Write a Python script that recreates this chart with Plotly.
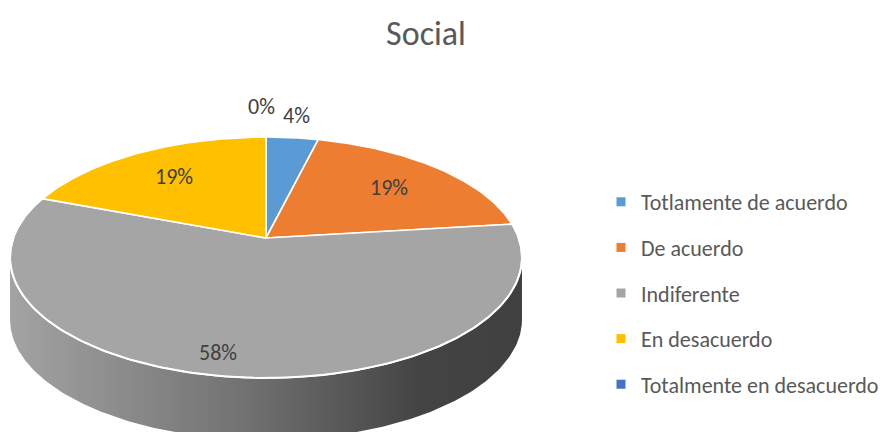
import numpy as np
import plotly.graph_objects as go

categories = ["Totlamente de acuerdo", "De acuerdo", "Indiferente",
              "En desacuerdo", "Totalmente en desacuerdo"]
values = [1, 5, 15, 5, 0]
colors = ["#5B9BD5", "#ED7D31", "#A5A5A5", "#FFC000", "#4472C4"]
title = "Social"

FONT = "Calibri, Carlito, Lato, sans-serif"
W, H = 896, 432
OFF = 8  # page body margin around the plot div

# tilted-disc projection (page pixel space)
CX, CY = 266, 238
A, B, P = 252.6, 117.3, 0.162
DEPTH = 62


def proj(theta_deg, r=1.0, dy=0.0):
    th = np.radians(theta_deg)
    w = 1 + P * r * np.cos(th)
    x = CX + A * r * np.sin(th) / w
    y = CY - B * r * np.cos(th) / w + dy
    return x, y


def px(x):
    return (x - OFF) / W


def py(y):
    return 1 - (y - OFF) / H


total = sum(values)
fig = go.Figure()

# side wall of the disc (front part, all under the big slice)
t_edge = np.degrees(np.arccos(-P))
ts = np.linspace(t_edge, 360 - t_edge, 200)
xt, yt = proj(ts)
xb, yb = proj(ts[::-1], dy=DEPTH)
fig.add_trace(go.Scatter(
    x=np.concatenate([xt, xb]), y=np.concatenate([yt, yb]),
    mode="lines", fill="toself", line=dict(width=0),
    fillgradient=dict(type="horizontal", start=15, stop=520,
                      colorscale=[[0, "#a2a2a2"], [0.45, "#727272"],
                                  [0.8, "#444444"], [1, "#404040"]]),
    hoverinfo="skip", showlegend=False))

# top face slices, clockwise from 12 o'clock
start = 0.0
label_pos = []
for cat, v, c in zip(categories, values, colors):
    span = 360.0 * v / total
    if v > 0:
        tt = np.linspace(start, start + span, max(int(span * 2), 4))
        ax, ay = proj(tt)
        fig.add_trace(go.Scatter(
            x=np.concatenate([[CX], ax, [CX]]),
            y=np.concatenate([[CY], ay, [CY]]),
            mode="lines", fill="toself", fillcolor=c,
            line=dict(color="white", width=1.6),
            name=cat, hoverinfo="name", showlegend=False))
    label_pos.append(start + span / 2 if v > 0 else start % 360)
    start += span

# front rim highlight
rx, ry = proj(np.linspace(t_edge - 10, 370 - t_edge, 200))
fig.add_trace(go.Scatter(x=rx, y=ry, mode="lines",
                         line=dict(color="white", width=2),
                         hoverinfo="skip", showlegend=False))

# data labels
label_r = [1.27, 0.7, 0.85, 0.7, 1.3]
shifts = [(-2, 0), (0, 0), (-18, 0), (0, 0), (-5, 6)]
for v, th, r, (sx, sy) in zip(values, label_pos, label_r, shifts):
    lx, ly = proj(th, r)
    fig.add_annotation(x=lx, y=ly, text=f"{round(100 * v / total)}%",
                       showarrow=False, xshift=sx, yshift=sy,
                       font=dict(family=FONT, size=22, color="#404040"))

# legend entries
for i, (cat, c) in enumerate(zip(categories, colors)):
    fig.add_trace(go.Scatter(x=[None], y=[None], mode="markers", name=cat,
                             legendgroup=f"g{i}",
                             marker=dict(symbol="square", size=9, color=c)))

fig.update_layout(
    width=W, height=H,
    margin=dict(l=0, r=0, t=0, b=0),
    paper_bgcolor="white", plot_bgcolor="white",
    title=dict(text=title, x=px(426), y=py(33), xanchor="center",
               yanchor="middle",
               font=dict(family=FONT, size=34, color="#595959")),
    xaxis=dict(range=[OFF, W + OFF], visible=False, fixedrange=True),
    yaxis=dict(range=[H + OFF, OFF], visible=False, fixedrange=True),
    legend=dict(x=px(601), y=py(181), xanchor="left", yanchor="top",
                font=dict(family=FONT, size=22, color="#595959"),
                tracegroupgap=14, bgcolor="rgba(0,0,0,0)"),
)

fig.write_html("out.html")
